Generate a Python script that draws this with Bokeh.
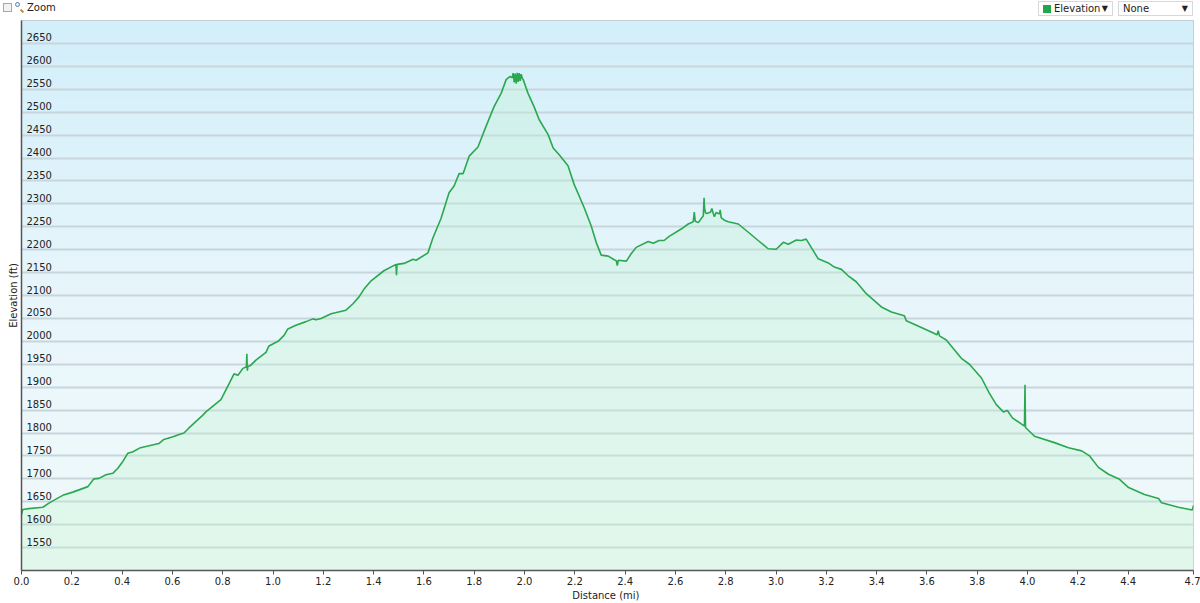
import numpy as np
from bokeh.plotting import figure
from bokeh.layouts import column
from bokeh.models import Range1d, FixedTicker, PrintfTickFormatter, ColumnDataSource, Div
from bokeh.core.properties import value
from bokeh.embed import file_html
from bokeh.resources import INLINE

# ---------------- data ----------------
distance_mi = [
    0.000, 0.005, 0.029, 0.085, 0.109, 0.144, 0.164, 0.204, 0.264, 0.288,
    0.308, 0.336, 0.363, 0.383, 0.403, 0.423, 0.443, 0.473, 0.546, 0.566,
    0.602, 0.633, 0.646, 0.666, 0.721, 0.733, 0.793, 0.825, 0.845, 0.861,
    0.880, 0.894, 0.896, 0.898, 0.900, 0.912, 0.932, 0.972, 0.984, 1.020,
    1.044, 1.059, 1.091, 1.131, 1.159, 1.171, 1.191, 1.231, 1.290, 1.318,
    1.342, 1.362, 1.390, 1.441, 1.489, 1.491, 1.493, 1.521, 1.557, 1.569,
    1.616, 1.636, 1.668, 1.700, 1.720, 1.740, 1.756, 1.780, 1.815, 1.847,
    1.879, 1.907, 1.927, 1.943, 1.951, 1.955, 1.959, 1.963, 1.967, 1.971,
    1.975, 1.979, 1.983, 1.987, 1.991, 1.995, 2.014, 2.038, 2.058, 2.094,
    2.114, 2.138, 2.173, 2.197, 2.237, 2.265, 2.285, 2.305, 2.333, 2.357,
    2.365, 2.369, 2.373, 2.405, 2.424, 2.444, 2.492, 2.512, 2.535, 2.555,
    2.575, 2.623, 2.651, 2.671, 2.675, 2.679, 2.691, 2.711, 2.714, 2.716,
    2.720, 2.726, 2.740, 2.745, 2.750, 2.755, 2.762, 2.775, 2.778, 2.782,
    2.795, 2.810, 2.850, 2.890, 2.929, 2.969, 3.001, 3.029, 3.049, 3.081,
    3.101, 3.120, 3.140, 3.168, 3.208, 3.232, 3.260, 3.287, 3.319, 3.359,
    3.419, 3.459, 3.510, 3.518, 3.578, 3.630, 3.640, 3.645, 3.650, 3.677,
    3.737, 3.769, 3.817, 3.848, 3.876, 3.904, 3.920, 3.940, 3.988, 3.990,
    3.992, 4.028, 4.107, 4.163, 4.215, 4.247, 4.282, 4.322, 4.366, 4.402,
    4.465, 4.521, 4.533, 4.600, 4.655, 4.660,
]
elevation_ft = [
    1622, 1633, 1635, 1638, 1647, 1658, 1664, 1671, 1683, 1700,
    1701, 1709, 1712, 1723, 1738, 1756, 1759, 1768, 1777, 1786,
    1792, 1798, 1800, 1811, 1839, 1846, 1873, 1907, 1929, 1926,
    1941, 1944, 1973, 1936, 1945, 1948, 1959, 1976, 1990, 2000,
    2013, 2027, 2035, 2043, 2049, 2047, 2050, 2060, 2068, 2082,
    2097, 2114, 2132, 2154, 2168, 2144, 2168, 2170, 2179, 2177,
    2193, 2226, 2268, 2324, 2339, 2366, 2366, 2404, 2424, 2469,
    2512, 2541, 2571, 2578, 2575, 2585, 2565, 2584, 2562, 2586,
    2566, 2585, 2568, 2583, 2574, 2571, 2541, 2512, 2484, 2451,
    2422, 2407, 2383, 2343, 2292, 2252, 2216, 2188, 2186, 2178,
    2176, 2165, 2177, 2175, 2191, 2205, 2218, 2214, 2220, 2220,
    2229, 2245, 2256, 2261, 2282, 2262, 2259, 2274, 2313, 2290,
    2280, 2279, 2282, 2290, 2280, 2272, 2281, 2278, 2287, 2270,
    2264, 2261, 2256, 2238, 2220, 2202, 2201, 2216, 2212, 2221,
    2220, 2223, 2205, 2180, 2171, 2162, 2157, 2143, 2130, 2104,
    2075, 2064, 2056, 2045, 2030, 2017, 2014, 2023, 2012, 2003,
    1963, 1950, 1920, 1887, 1862, 1846, 1849, 1833, 1815, 1905,
    1812, 1793, 1779, 1768, 1761, 1750, 1725, 1710, 1699, 1681,
    1666, 1657, 1648, 1638, 1632, 1642,
]

x_ticks = [0.0, 0.2, 0.4, 0.6, 0.8, 1.0, 1.2, 1.4, 1.6, 1.8, 2.0, 2.2,
           2.4, 2.6, 2.8, 3.0, 3.2, 3.4, 3.6, 3.8, 4.0, 4.2, 4.4]
y_grid = [1500, 1550, 1600, 1650, 1700, 1750, 1800, 1850, 1900, 1950, 2000,
          2050, 2100, 2150, 2200, 2250, 2300, 2350, 2400, 2450, 2500, 2550,
          2600, 2650, 2700]
y_tick_values = [1550, 1600, 1650, 1700, 1750, 1800, 1850, 1900, 1950, 2000,
                 2050, 2100, 2150, 2200, 2250, 2300, 2350, 2400, 2450, 2500,
                 2550, 2600, 2650]
y_tick_labels = ["1550", "1600", "1650", "1700", "1750", "1800", "1850", "1900",
                 "1950", "2000", "2050", "2100", "2150", "2200", "2250", "2300",
                 "2350", "2400", "2450", "2500", "2550", "2600", "2650"]
series_name = "Elevation"
secondary_name = "None"

X_MIN = 0.0
X_MAX = distance_mi[-1]
Y_MIN, Y_MAX = 1500, 2700

FONT = "DejaVu Sans"
W = 1200
HEADER_H = 20
H = 603 - HEADER_H
B_LEFT, B_RIGHT, B_TOP, B_BOTTOM = 21, 7, 0, 30

header_html = f"""
<div style="position:relative;width:{W}px;height:{HEADER_H}px;font-family:'{FONT}';font-size:10px;color:#222;">
  <span style="position:absolute;left:3px;top:3px;width:9px;height:9px;border:1px solid #a8a8a8;background:#f2f2f2;"></span>
  <span style="position:absolute;left:15px;top:2px;width:5px;height:5px;border:1.5px solid #5d82aa;border-radius:50%;background:#e8f0f8;"></span>
  <span style="position:absolute;left:20px;top:10px;width:4px;height:2px;background:#b9853a;transform:rotate(45deg);"></span>
  <span style="position:absolute;left:27px;top:2px;line-height:12px;">Zoom</span>
  <div style="position:absolute;left:1038px;top:1px;width:75px;height:15px;border:1px solid #d8d8d8;box-sizing:border-box;background:#fff;">
    <span style="position:absolute;left:4px;top:3px;width:8px;height:8px;background:#1fa84a;"></span>
    <span style="position:absolute;left:15px;top:0px;line-height:13px;">{series_name}</span>
    <span style="position:absolute;right:4px;top:0px;line-height:13px;font-size:8px;">&#9660;</span>
  </div>
  <div style="position:absolute;left:1118px;top:1px;width:75px;height:15px;border:1px solid #d8d8d8;box-sizing:border-box;background:#fff;">
    <span style="position:absolute;left:4px;top:0px;line-height:13px;">{secondary_name}</span>
    <span style="position:absolute;right:4px;top:0px;line-height:13px;font-size:8px;">&#9660;</span>
  </div>
</div>
"""
header = Div(text=header_html, width=W, height=HEADER_H, margin=0)

p = figure(width=W, height=H, output_backend="svg", toolbar_location=None,
           x_range=Range1d(X_MIN, X_MAX), y_range=Range1d(Y_MIN, Y_MAX),
           min_border_left=B_LEFT, min_border_right=B_RIGHT,
           min_border_top=B_TOP, min_border_bottom=B_BOTTOM,
           background_fill_color="white", border_fill_color="white",
           outline_line_color="#bcc6cc", outline_line_width=1, margin=0)

# background gradient (light blue top -> pale bottom)
top_c = np.array([211, 239, 250], dtype=float)
mid_c = np.array([232, 246, 252], dtype=float)
bot_c = np.array([241, 250, 250], dtype=float)
n = 200
t = np.linspace(0, 1, n)[:, None]  # 0 bottom, 1 top
grad = np.where(t < 0.5, bot_c + (mid_c - bot_c) * (t / 0.5),
                mid_c + (top_c - mid_c) * ((t - 0.5) / 0.5))
img = np.zeros((n, 2), dtype=np.uint32)
view = img.view(dtype=np.uint8).reshape((n, 2, 4))
for j in range(2):
    view[:, j, 0] = grad[:, 0].astype(np.uint8)
    view[:, j, 1] = grad[:, 1].astype(np.uint8)
    view[:, j, 2] = grad[:, 2].astype(np.uint8)
    view[:, j, 3] = 255
p.image_rgba(image=[img], x=X_MIN, y=Y_MIN, dw=X_MAX - X_MIN, dh=Y_MAX - Y_MIN,
             level="image")

src = ColumnDataSource(dict(d=distance_mi, e=elevation_ft,
                            base=[Y_MIN] * len(distance_mi)))
p.varea(x="d", y1="base", y2="e", source=src, fill_color="#c2f2d0", fill_alpha=0.32)
p.line(x="d", y="e", source=src, line_color="#2aa84f", line_width=1.6)

# y tick labels drawn inside the frame
p.text(x=[X_MIN] * len(y_tick_values), y=y_tick_values, text=y_tick_labels,
       x_offset=5, y_offset=-2, text_baseline="bottom", text_align="left",
       text_font=value(FONT), text_font_size="10px", text_color="#222222")

# grid
p.xgrid.visible = False
p.ygrid.ticker = FixedTicker(ticks=y_grid)
p.ygrid.grid_line_color = "#c8d6dc"
p.ygrid.grid_line_width = 2
p.ygrid.level = "underlay"

# x axis
xa = p.xaxis[0]
xa.ticker = FixedTicker(ticks=x_ticks + [X_MAX])
xa.formatter = PrintfTickFormatter(format="%.1f")
xa.axis_label = "Distance  (mi)"
xa.axis_label_text_font = FONT
xa.axis_label_text_font_size = "10px"
xa.axis_label_text_font_style = "normal"
xa.axis_label_text_color = "#222222"
xa.axis_label_standoff = 2
xa.major_label_text_font = FONT
xa.major_label_text_font_size = "10px"
xa.major_label_text_color = "#222222"
xa.major_label_standoff = 2
xa.major_tick_out = 4
xa.major_tick_in = 0
xa.minor_tick_out = 0
xa.minor_tick_in = 0
xa.axis_line_color = "#555555"
xa.axis_line_width = 1.5
xa.major_tick_line_color = "#555555"

# y axis: line and title only (tick labels are drawn inside the frame)
ya = p.yaxis[0]
ya.ticker = FixedTicker(ticks=[])
ya.major_tick_out = 0
ya.major_tick_in = 0
ya.minor_tick_out = 0
ya.minor_tick_in = 0
ya.axis_label = "Elevation (ft)"
ya.axis_label_text_font = FONT
ya.axis_label_text_font_size = "10px"
ya.axis_label_text_font_style = "normal"
ya.axis_label_text_color = "#222222"
ya.axis_label_standoff = 3
ya.axis_line_color = "#555555"
ya.axis_line_width = 1.5

layout = column(header, p, spacing=0, margin=0)
open("out.html", "w").write(file_html(layout, INLINE))
